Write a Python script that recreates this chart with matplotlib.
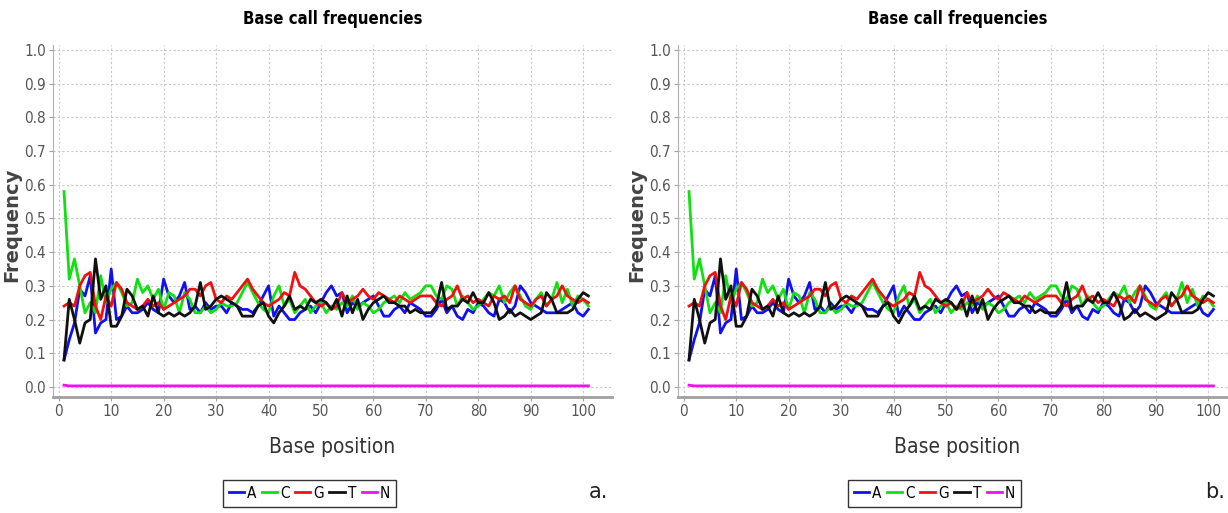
import matplotlib
matplotlib.use("Agg")
import matplotlib.pyplot as plt
import numpy as np

# base call frequencies per read position (positions 1..101)
positions = list(range(1, 102))

freq_A = [0.08, 0.14, 0.19, 0.29, 0.27, 0.33, 0.16, 0.19, 0.20, 0.35,
          0.20, 0.21, 0.24, 0.22, 0.22, 0.23, 0.25, 0.23, 0.22, 0.32,
          0.27, 0.25, 0.27, 0.31, 0.23, 0.24, 0.22, 0.25, 0.23, 0.24,
          0.24, 0.22, 0.25, 0.24, 0.23, 0.23, 0.22, 0.24, 0.27, 0.30,
          0.21, 0.24, 0.22, 0.20, 0.20, 0.22, 0.23, 0.24, 0.22, 0.25,
          0.28, 0.30, 0.27, 0.28, 0.22, 0.25, 0.24, 0.25, 0.26, 0.27,
          0.24, 0.21, 0.21, 0.23, 0.24, 0.22, 0.25, 0.24, 0.23, 0.21,
          0.21, 0.23, 0.26, 0.22, 0.24, 0.21, 0.20, 0.23, 0.22, 0.25,
          0.24, 0.22, 0.21, 0.26, 0.25, 0.22, 0.24, 0.30, 0.28, 0.25,
          0.24, 0.23, 0.22, 0.22, 0.22, 0.23, 0.24, 0.25, 0.22, 0.21, 0.23]

freq_C = [0.58, 0.32, 0.38, 0.30, 0.22, 0.25, 0.22, 0.33, 0.25, 0.29,
          0.31, 0.28, 0.24, 0.25, 0.32, 0.28, 0.30, 0.26, 0.29, 0.23,
          0.28, 0.27, 0.22, 0.28, 0.26, 0.22, 0.22, 0.24, 0.22, 0.23,
          0.25, 0.24, 0.24, 0.25, 0.28, 0.31, 0.28, 0.25, 0.23, 0.22,
          0.27, 0.30, 0.24, 0.26, 0.22, 0.24, 0.26, 0.22, 0.24, 0.25,
          0.22, 0.24, 0.23, 0.25, 0.24, 0.27, 0.23, 0.25, 0.24, 0.22,
          0.23, 0.25, 0.26, 0.27, 0.25, 0.28, 0.26, 0.27, 0.28, 0.30,
          0.30, 0.27, 0.26, 0.30, 0.29, 0.24, 0.27, 0.25, 0.23, 0.24,
          0.26, 0.28, 0.27, 0.30, 0.25, 0.28, 0.30, 0.27, 0.24, 0.23,
          0.26, 0.28, 0.24, 0.26, 0.31, 0.25, 0.29, 0.24, 0.27, 0.26, 0.24]

freq_G = [0.24, 0.25, 0.24, 0.30, 0.33, 0.34, 0.24, 0.20, 0.27, 0.24,
          0.31, 0.29, 0.25, 0.24, 0.23, 0.24, 0.26, 0.24, 0.25, 0.23,
          0.24, 0.25, 0.26, 0.27, 0.29, 0.29, 0.27, 0.30, 0.31, 0.26,
          0.25, 0.27, 0.26, 0.28, 0.30, 0.32, 0.29, 0.27, 0.25, 0.24,
          0.25, 0.26, 0.28, 0.27, 0.34, 0.30, 0.29, 0.27, 0.25, 0.24,
          0.25, 0.23, 0.24, 0.28, 0.25, 0.26, 0.27, 0.29, 0.27, 0.26,
          0.28, 0.27, 0.26, 0.25, 0.27, 0.26, 0.25, 0.26, 0.27, 0.27,
          0.27, 0.25, 0.24, 0.26, 0.27, 0.30, 0.26, 0.27, 0.25, 0.26,
          0.25, 0.24, 0.27, 0.26, 0.27, 0.25, 0.30, 0.26, 0.25, 0.24,
          0.26, 0.27, 0.24, 0.26, 0.27, 0.30, 0.27, 0.26, 0.25, 0.26, 0.25]

freq_T = [0.08, 0.26, 0.20, 0.13, 0.19, 0.20, 0.38, 0.26, 0.30, 0.18,
          0.18, 0.21, 0.29, 0.27, 0.23, 0.24, 0.21, 0.27, 0.22, 0.21,
          0.22, 0.21, 0.22, 0.21, 0.22, 0.24, 0.31, 0.23, 0.24, 0.26,
          0.27, 0.26, 0.25, 0.24, 0.21, 0.21, 0.21, 0.24, 0.25, 0.21,
          0.19, 0.22, 0.24, 0.27, 0.23, 0.24, 0.23, 0.26, 0.25, 0.26,
          0.25, 0.23, 0.26, 0.21, 0.27, 0.22, 0.26, 0.20, 0.23, 0.25,
          0.26, 0.27, 0.25, 0.25, 0.24, 0.24, 0.22, 0.23, 0.22, 0.22,
          0.22, 0.24, 0.31, 0.23, 0.24, 0.24, 0.26, 0.25, 0.28, 0.25,
          0.25, 0.28, 0.25, 0.20, 0.21, 0.23, 0.21, 0.22, 0.21, 0.20,
          0.21, 0.22, 0.28, 0.26, 0.22, 0.22, 0.22, 0.23, 0.26, 0.28, 0.27]

freq_N = [0.005] + [0.003] * 100

bases = ["A", "C", "G", "T", "N"]
base_colors = ["#1010f0", "#10e010", "#f01010", "#111111", "#f010f0"]
panel_tags = ["a.", "b."]

narrow = ["DejaVu Sans Condensed", "Liberation Sans Narrow", "DejaVu Sans"]


def plot_panel(ax, series):
    for vals, name, col in zip(series, bases, base_colors):
        ax.plot(positions, vals, "-", color=col, lw=2.0, label=name)
    ax.set_xlim(-1.1, 105.5)
    ax.set_ylim(-0.03, 1.015)
    ax.set_xticks(np.arange(0, 101, 10))
    ax.set_yticks(np.arange(0, 1.01, 0.1))
    ax.set_yticklabels([f"{v:.1f}" for v in np.arange(0, 1.01, 0.1)])
    ax.grid(True, color="#c8c8c8", ls=(0, (2, 2)), lw=0.8)
    for s in ["top", "right"]:
        ax.spines[s].set_visible(False)
    ax.spines["left"].set_color("#b0b0b0")
    ax.spines["bottom"].set_color("#a0a0a0")
    ax.spines["bottom"].set_linewidth(2)
    ax.tick_params(colors="#a0a0a0", labelcolor="#555555", length=3,
                   labelsize=11, pad=2)
    for lab in ax.get_xticklabels() + ax.get_yticklabels():
        lab.set_family(narrow)
        lab.set_stretch("condensed")
    ax.set_title("Base call frequencies", fontsize=12, fontweight="bold",
                 family=narrow, stretch="condensed", pad=15)
    ax.set_xlabel("Base position", fontsize=15, family=narrow, stretch="condensed",
                  color="#333333", labelpad=13)
    ax.set_ylabel("Frequency", fontsize=14, fontweight="bold", color="#444444")
    ax.yaxis.set_label_coords(-0.056, 0.49)
    ax.legend(loc="upper center", bbox_to_anchor=(0.459, -0.235), ncol=5,
              frameon=True, fancybox=False, edgecolor="black", handlelength=1.0,
              handletextpad=0.2, columnspacing=0.35, borderpad=0.4,
              borderaxespad=0.0,
              prop={"family": narrow, "stretch": "condensed", "size": 11})


fig = plt.figure(figsize=(12.28, 5.13), dpi=100)
run_data = [[freq_A, freq_C, freq_G, freq_T, freq_N],
            [freq_A, freq_C, freq_G, freq_T, freq_N]]
lefts = [53 / 1228, 678 / 1228]
tag_x = [598 / 1228, 1215 / 1228]
for left, series, tag, tx in zip(lefts, run_data, panel_tags, tag_x):
    ax = fig.add_axes([left, 116 / 513, 559 / 1228, 352 / 513])
    plot_panel(ax, series)
    fig.text(tx, 1 - 492 / 513, tag, fontsize=15, ha="center", va="center",
             color="#222222")

fig.savefig("out.png", dpi=100)
